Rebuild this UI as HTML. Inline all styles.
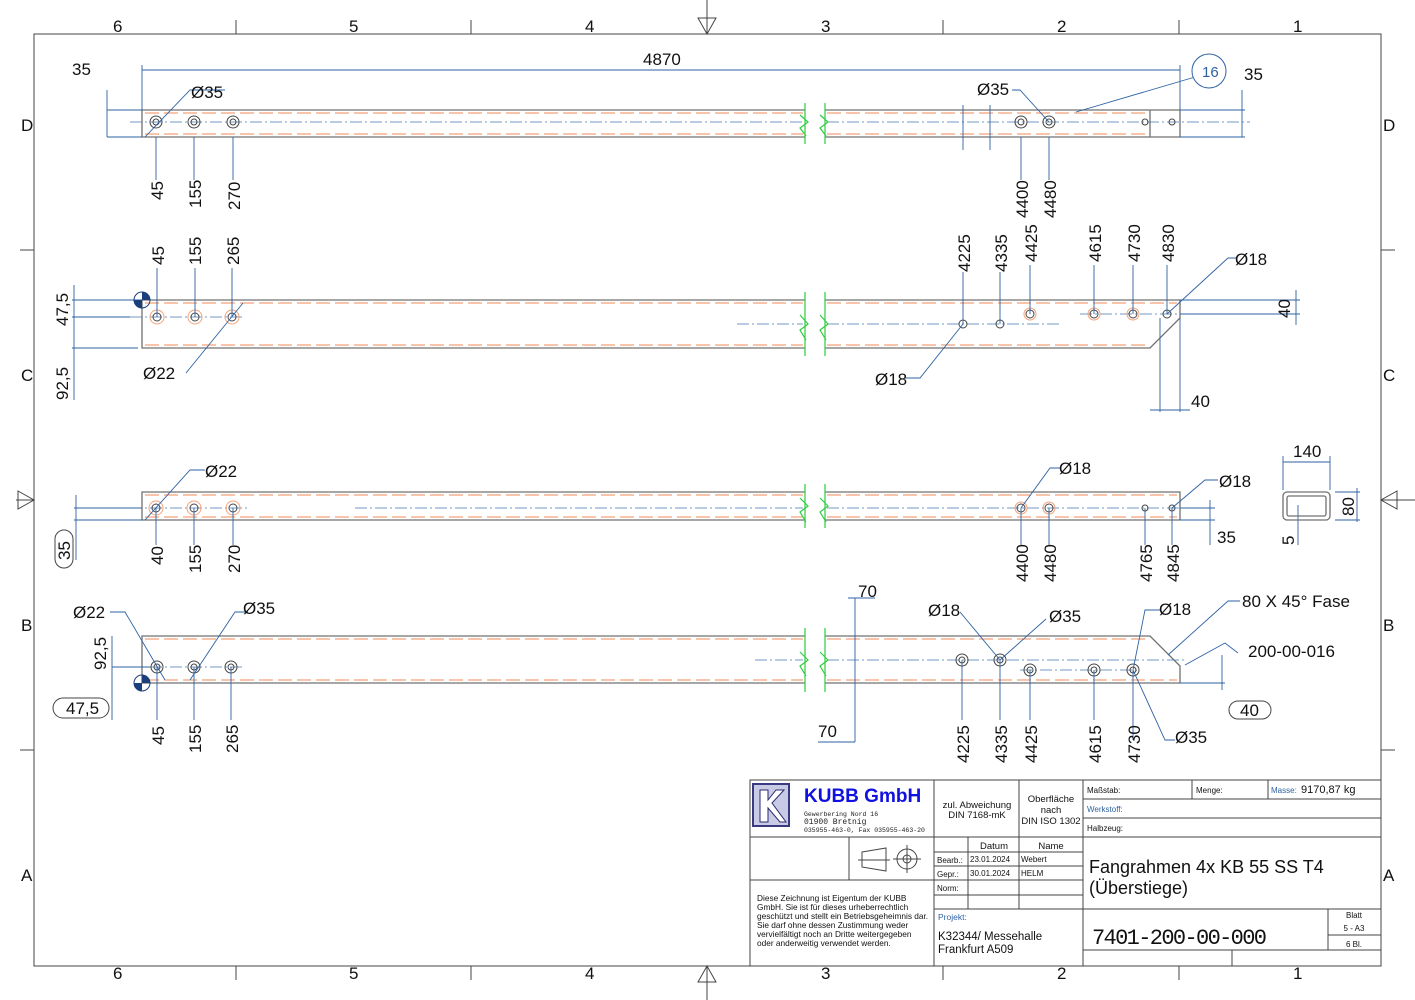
<!DOCTYPE html>
<html><head><meta charset="utf-8"><style>
html,body{margin:0;padding:0;background:#fff}
svg{display:block;font-family:"Liberation Sans",sans-serif}
.o{stroke:#707070;stroke-width:1.3;fill:none}
.h{stroke:#f4a27a;stroke-width:1.3;stroke-dasharray:14 5;fill:none}
.c{stroke:#4a78b0;stroke-width:.8;stroke-dasharray:12 3 2 3;fill:none}
.d{stroke:#2e62a3;stroke-width:.9;fill:none}
.g{stroke:#2ecc40;stroke-width:1.2;fill:none}
.k{stroke:#444;stroke-width:1;fill:none}
.t{font-size:17px;fill:#111}
.s{font-size:9px;fill:#111}
.b{fill:#2e62a3}
</style></head><body>
<svg width="1415" height="1000" viewBox="0 0 1415 1000">
<rect width="1415" height="1000" fill="#fff"/>
<!-- frame -->
<rect x="34" y="34" width="1347" height="932" class="k"/>
<g class="k">
<path d="M236 20V34M471 20V34M943 20V34M1179 20V34M236 966V980M471 966V980M943 966V980M1179 966V980"/>
<path d="M20 250H34M20 500H34M20 750H34M1381 250H1395M1381 500H1395M1381 750H1395"/>
<path d="M707 0V34M698 18L707 34L716 18ZM707 966V1000M698 982L707 966L716 982Z"/>
<path d="M16 500H34M18 491L34 500L18 509ZM1381 500H1415M1397 491L1381 500L1397 509Z"/>
</g>
<g class="t" font-size="15">
<text x="113" y="32">6</text><text x="349" y="32">5</text><text x="585" y="32">4</text><text x="821" y="32">3</text><text x="1057" y="32">2</text><text x="1293" y="32">1</text>
<text x="113" y="979">6</text><text x="349" y="979">5</text><text x="585" y="979">4</text><text x="821" y="979">3</text><text x="1057" y="979">2</text><text x="1293" y="979">1</text>
<text x="21" y="131">D</text><text x="21" y="381">C</text><text x="21" y="631">B</text><text x="21" y="881">A</text>
<text x="1383" y="131">D</text><text x="1383" y="381">C</text><text x="1383" y="631">B</text><text x="1383" y="881">A</text>
</g>

<!-- BEAM 1 -->
<path class="o" d="M805 110H142V137H805M825 110H1180V137H825M1150 110V137M1150 110"/>
<path class="h" d="M145 113H803M827 113H1150M145 134H803M827 134H1150"/>
<path class="c" d="M130 122H803M827 122H1250"/>
<path class="g" d="M805 103V144M800 115L808 122L800 128L806 136M825 103V144M820 115L828 122L820 128L826 136"/>
<g class="k"><circle cx="156" cy="122" r="6"/><circle cx="156" cy="122" r="3"/><circle cx="194" cy="122" r="6"/><circle cx="194" cy="122" r="3"/><circle cx="233" cy="122" r="6"/><circle cx="233" cy="122" r="3"/><circle cx="1021" cy="122" r="6"/><circle cx="1021" cy="122" r="3"/><circle cx="1049" cy="122" r="6"/><circle cx="1049" cy="122" r="3"/><circle cx="1145" cy="122" r="3"/><circle cx="1172" cy="122" r="3"/></g>
<path class="d" d="M142 65V110M1180 65V110M142 70H1180M107 110H142M107 137H142M107 90V137M1180 110H1245M1180 137H1245M1242 90V137M156 137V180M194 137V180M233 137V180M1021 137V180M1049 137V180M963 105V150M990 105V150M145 137L190 90H225M1076 112L1195 77M1049 122L1020 90H1012"/>
<text class="t" x="643" y="65">4870</text><text class="t" x="72" y="75">35</text><text class="t" x="1244" y="80">35</text>
<text class="t" x="191" y="98">Ø35</text><text class="t" x="977" y="95">Ø35</text>
<circle cx="1209" cy="71" r="17" fill="#fff" stroke="#2e62a3"/><text x="1202" y="77" font-size="15" fill="#2e62a3">16</text>
<g class="t"><text transform="translate(163,200) rotate(-90)">45</text><text transform="translate(201,208) rotate(-90)">155</text><text transform="translate(240,210) rotate(-90)">270</text><text transform="translate(1028,218) rotate(-90)">4400</text><text transform="translate(1056,218) rotate(-90)">4480</text></g>

<!-- BEAM 2 -->
<path class="o" d="M805 300H142V348H805M825 300H1180V318L1150 348H825"/>
<path class="h" d="M145 303H803M827 303H1177M145 345H803M827 345H1150"/>
<path class="c" d="M737 324H803M827 324H1060M130 317H245M1080 314H1185"/>
<path class="g" d="M805 292V356M800 315L808 324L800 330L806 340M825 292V356M820 315L828 324L820 330L826 340"/>
<g class="k" stroke-width=".8"><circle cx="157" cy="317" r="4"/><circle cx="195" cy="317" r="4"/><circle cx="232" cy="317" r="4"/><circle cx="963" cy="324" r="4"/><circle cx="1000" cy="324" r="4"/><circle cx="1030" cy="314" r="4"/><circle cx="1094" cy="314" r="4"/><circle cx="1133" cy="314" r="4"/><circle cx="1167" cy="314" r="4"/></g>
<g stroke="#f4a27a" fill="none"><circle cx="157" cy="317" r="7"/><circle cx="195" cy="317" r="7"/><circle cx="232" cy="317" r="7"/><circle cx="1030" cy="314" r="6"/><circle cx="1094" cy="314" r="6"/><circle cx="1133" cy="314" r="6"/></g>
<path class="d" d="M157 268V317M195 268V317M232 268V317M963 272V324M1000 272V324M1030 265V314M1094 265V314M1133 265V314M1167 265V314M72 300H142M72 317H130M72 348H138M74 285V400M186 373L243 303M963 324L920 378H905M1167 314L1228 258H1236M1180 300H1300M1180 314H1300M1296 290V325M1160 318V412M1180 318V412M1150 410H1190"/>
<path d="M142 292A8 8 0 0 1 150 300H142ZM142 308A8 8 0 0 1 134 300H142Z" fill="#1a3f7a"/><circle cx="142" cy="300" r="8" fill="none" stroke="#1a3f7a"/>
<text class="t" x="143" y="379">Ø22</text><text class="t" x="875" y="385">Ø18</text><text class="t" x="1235" y="265">Ø18</text><text class="t" x="1191" y="407">40</text>
<g class="t"><text transform="translate(164,265) rotate(-90)">45</text><text transform="translate(201,265) rotate(-90)">155</text><text transform="translate(239,265) rotate(-90)">265</text><text transform="translate(970,272) rotate(-90)">4225</text><text transform="translate(1007,272) rotate(-90)">4335</text><text transform="translate(1037,262) rotate(-90)">4425</text><text transform="translate(1101,262) rotate(-90)">4615</text><text transform="translate(1140,262) rotate(-90)">4730</text><text transform="translate(1174,262) rotate(-90)">4830</text><text transform="translate(68,326) rotate(-90)">47,5</text><text transform="translate(68,400) rotate(-90)">92,5</text><text transform="translate(1290,318) rotate(-90)">40</text></g>

<!-- BEAM 3 -->
<path class="o" d="M805 492H142V520H805M825 492H1180V520H825"/>
<path class="h" d="M145 495H803M827 495H1177M145 517H803M827 517H1177"/>
<path class="c" d="M130 508H250M355 508H803M827 508H1190"/>
<path class="g" d="M805 484V528M800 498L808 506L800 512L806 522M825 484V528M820 498L828 506L820 512L826 522"/>
<g class="k" stroke-width=".8"><circle cx="156" cy="508" r="4"/><circle cx="194" cy="508" r="4"/><circle cx="233" cy="508" r="4"/><circle cx="1021" cy="508" r="4"/><circle cx="1049" cy="508" r="4"/><circle cx="1145" cy="508" r="3"/><circle cx="1172" cy="508" r="3"/></g>
<g stroke="#f4a27a" fill="none"><circle cx="156" cy="508" r="7"/><circle cx="194" cy="508" r="7"/><circle cx="233" cy="508" r="7"/><circle cx="1021" cy="508" r="6"/><circle cx="1049" cy="508" r="6"/></g>
<path class="d" d="M156 508V545M194 508V545M233 508V545M1021 508V545M1049 508V545M1145 508V545M1172 508V545M74 508H142M74 520H142M76 495V560M145 520L190 470H205M1021 508L1050 468H1060M1172 508L1205 480H1218M1180 508H1215M1180 520H1215M1210 500V545M1283 462H1330M1283 456V490M1330 456V490M1335 492H1360M1335 520H1360M1357 488V522M1298 505V545"/>
<rect x="55" y="530" width="18" height="38" rx="9" fill="#fff" stroke="#444"/>
<text class="t" transform="translate(70,560) rotate(-90)">35</text>
<rect x="1283" y="492" width="47" height="28" rx="4" class="o" stroke-width="2"/><rect x="1287" y="496" width="39" height="20" rx="2" class="o"/>
<text class="t" x="205" y="477">Ø22</text><text class="t" x="1059" y="474">Ø18</text><text class="t" x="1219" y="487">Ø18</text><text class="t" x="1217" y="543">35</text><text class="t" x="1293" y="457">140</text>
<g class="t"><text transform="translate(163,565) rotate(-90)">40</text><text transform="translate(201,573) rotate(-90)">155</text><text transform="translate(240,573) rotate(-90)">270</text><text transform="translate(1028,582) rotate(-90)">4400</text><text transform="translate(1056,582) rotate(-90)">4480</text><text transform="translate(1152,582) rotate(-90)">4765</text><text transform="translate(1179,582) rotate(-90)">4845</text><text transform="translate(1354,516) rotate(-90)">80</text><text transform="translate(1294,545) rotate(-90)">5</text></g>

<!-- BEAM 4 -->
<path class="o" d="M805 636H142V683H805M825 636H1150L1180 666V683H825"/>
<path class="h" d="M145 639H803M827 639H1148M145 680H803M827 680H1177"/>
<path class="c" d="M130 667H245M755 660H803M827 660H1185M1020 670H1140"/>
<path class="g" d="M805 628V692M800 652L808 660L800 666L806 676M825 628V692M820 652L828 660L820 666L826 676"/>
<g class="k"><circle cx="157" cy="667" r="6"/><circle cx="157" cy="667" r="3"/><circle cx="194" cy="667" r="6"/><circle cx="194" cy="667" r="3"/><circle cx="231" cy="667" r="6"/><circle cx="231" cy="667" r="3"/><circle cx="962" cy="660" r="6"/><circle cx="962" cy="660" r="3"/><circle cx="1000" cy="660" r="6"/><circle cx="1000" cy="660" r="3"/><circle cx="1030" cy="670" r="6"/><circle cx="1030" cy="670" r="3"/><circle cx="1094" cy="670" r="6"/><circle cx="1094" cy="670" r="3"/><circle cx="1133" cy="670" r="6"/><circle cx="1133" cy="670" r="3"/></g>
<path class="d" d="M157 667V720M194 667V720M231 667V720M962 660V720M1000 660V720M1030 670V720M1094 670V720M1133 670V740M112 636V720M112 667H150M855 598V742M848 598H875M818 742H855M110 612H125L165 680M248 612H235L190 680M960 612L1000 660M1046 619L1000 660M1160 610H1145L1133 670M1133 670L1165 740H1175M1168 655L1228 601H1240M1185 665L1225 643L1238 653M1180 683H1225M1222 655V690"/>
<path d="M142 675A8 8 0 0 1 150 683H142ZM142 691A8 8 0 0 1 134 683H142Z" fill="#1a3f7a"/><circle cx="142" cy="683" r="8" fill="none" stroke="#1a3f7a"/>
<rect x="53" y="698" width="56" height="20" rx="10" fill="#fff" stroke="#444"/><text class="t" x="66" y="714">47,5</text>
<rect x="1229" y="701" width="42" height="18" rx="9" fill="#fff" stroke="#444"/><text class="t" x="1240" y="716">40</text>
<text class="t" x="73" y="618">Ø22</text><text class="t" x="243" y="614">Ø35</text><text class="t" x="928" y="616">Ø18</text><text class="t" x="1049" y="622">Ø35</text><text class="t" x="1159" y="615">Ø18</text><text class="t" x="1175" y="743">Ø35</text><text class="t" x="858" y="597">70</text><text class="t" x="818" y="737">70</text>
<text class="t" x="1242" y="607">80 X 45° Fase</text><text class="t" x="1248" y="657">200-00-016</text>
<g class="t"><text transform="translate(164,745) rotate(-90)">45</text><text transform="translate(201,753) rotate(-90)">155</text><text transform="translate(238,753) rotate(-90)">265</text><text transform="translate(969,763) rotate(-90)">4225</text><text transform="translate(1007,763) rotate(-90)">4335</text><text transform="translate(1037,763) rotate(-90)">4425</text><text transform="translate(1101,763) rotate(-90)">4615</text><text transform="translate(1140,763) rotate(-90)">4730</text><text transform="translate(106,670) rotate(-90)">92,5</text></g>

<!-- TITLE BLOCK -->
<rect x="750" y="780" width="631" height="186" fill="#fff" stroke="#444"/>
<g class="k" stroke-width=".8">
<path d="M750 837H1083M934 780V966M1019 780V909M1083 780V966M1083 799H1381M1083 818H1381M1083 837H1381M1192 780V799M1268 780V799"/>
<path d="M750 880H934M849 837V880M968 837V909M934 852H1083M934 866H1083M934 880H1083M934 895H1083M934 909H1083"/>
<path d="M1083 909H1381M1328 909V950M1083 950H1381M1232 950V966M1328 935H1381"/>
<path d="M862 852L886 848V871L862 867ZM858 860H890" /><circle cx="907" cy="859" r="10"/><circle cx="907" cy="859" r="4"/><path d="M893 859H921M907 845V873"/>
</g>
<rect x="753" y="784" width="36" height="42" fill="#c9cbe6" stroke="#3a3a80" stroke-width="2"/>
<path d="M760 790V822H768V808L780 822H786L772 803L784 790H776L768 800V790Z" fill="#fff" stroke="#2a2a70"/>
<text x="804" y="802" font-size="19" font-weight="bold" fill="#1010e0">KUBB GmbH</text>
<text x="804" y="816" font-size="6.5" fill="#222" font-family="Liberation Mono,monospace">Gewerbering Nord 16</text>
<text x="804" y="824" font-size="8" fill="#222" font-family="Liberation Mono,monospace">01900 Bretnig</text>
<text x="804" y="832" font-size="6.5" fill="#222" font-family="Liberation Mono,monospace">035955-463-0, Fax 035955-463-20</text>
<g font-size="9.5" fill="#111" text-anchor="middle"><text x="977" y="808">zul. Abweichung</text><text x="977" y="818">DIN 7168-mK</text><text x="1051" y="802">Oberfläche</text><text x="1051" y="813">nach</text><text x="1051" y="824">DIN ISO 1302</text><text x="994" y="849">Datum</text><text x="1051" y="849">Name</text></g>
<g font-size="8" fill="#111"><text x="1087" y="793">Maßstab:</text><text x="1196" y="793">Menge:</text><text x="1087" y="831">Halbzeug:</text><text x="937" y="863">Bearb.:</text><text x="937" y="877">Gepr.:</text><text x="937" y="891">Norm:</text>
<text x="970" y="862">23.01.2024</text><text x="1021" y="862">Webert</text><text x="970" y="876">30.01.2024</text><text x="1021" y="876">HELM</text></g>
<text x="1271" y="793" font-size="8" fill="#2e62a3">Masse:</text><text x="1301" y="793" font-size="11" fill="#111">9170,87 kg</text>
<text x="1087" y="812" font-size="8" fill="#2e62a3">Werkstoff:</text>
<text x="938" y="920" font-size="8.5" fill="#2e62a3">Projekt:</text>
<g font-size="11.5" fill="#111"><text x="938" y="940">K32344/ Messehalle</text><text x="938" y="953">Frankfurt A509</text></g>
<g font-size="8.3" fill="#111"><text x="757" y="901">Diese Zeichnung ist Eigentum der KUBB</text><text x="757" y="910">GmbH. Sie ist für dieses urheberrechtlich</text><text x="757" y="919">geschützt und stellt ein Betriebsgeheimnis dar.</text><text x="757" y="928">Sie darf ohne dessen Zustimmung weder</text><text x="757" y="937">vervielfältigt noch an Dritte weitergegeben</text><text x="757" y="946">oder anderweitig verwendet werden.</text></g>
<text x="1089" y="873" font-size="18" fill="#111">Fangrahmen 4x KB 55 SS T4</text>
<text x="1089" y="894" font-size="18" fill="#111">(Überstiege)</text>
<text x="1092" y="944" font-size="22" fill="#111" font-family="Liberation Mono,monospace" textLength="175">7401-200-00-000</text>
<g font-size="8" fill="#111" text-anchor="middle"><text x="1354" y="918">Blatt</text><text x="1354" y="931">5  - A3</text><text x="1354" y="947">6  Bl.</text></g>
</svg>
</body></html>
